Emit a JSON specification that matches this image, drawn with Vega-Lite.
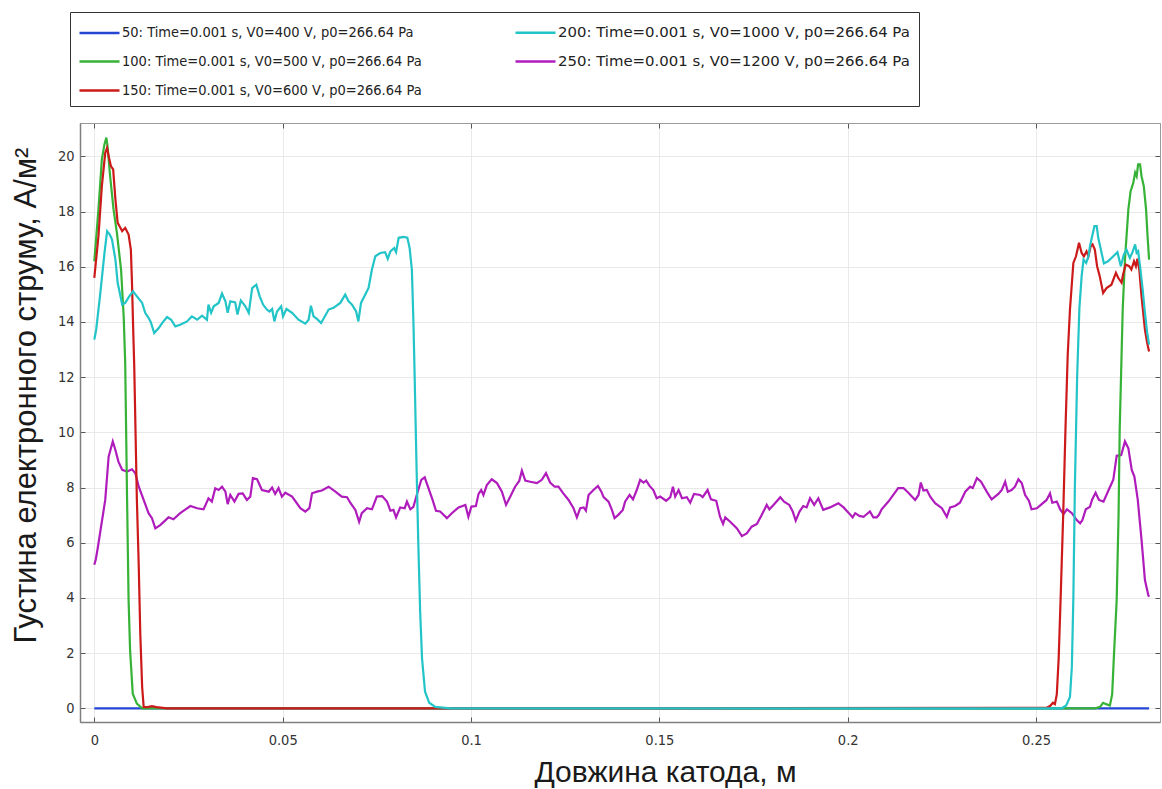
{
  "$schema": "https://vega.github.io/schema/vega-lite/v6.json",
  "width": 1080,
  "height": 599,
  "autosize": {"type": "none"},
  "padding": {"left": 80, "top": 123, "right": 2, "bottom": 67},
  "background": "white",
  "config": {
    "view": {"stroke": "#9a9a9a", "strokeWidth": 1},
    "axis": {
      "labelFont": "DejaVu Sans Condensed, DejaVu Sans",
      "labelFontSize": 14.5,
      "labelColor": "#333333",
      "titleFont": "Liberation Sans",
      "titleFontSize": 31,
      "titleFontWeight": "normal",
      "titleColor": "#1a1a1a",
      "gridColor": "#e9e9e9",
      "gridWidth": 1,
      "domainColor": "#7f7f7f",
      "domainWidth": 1.5,
      "tickColor": "#555555",
      "tickWidth": 1,
      "tickSize": -5
    }
  },
  "datasets": {
    "runs": [
      {"r": 50, "label": "50: Time=0.001 s, V0=400 V, p0=266.64 Pa"},
      {"r": 100, "label": "100: Time=0.001 s, V0=500 V, p0=266.64 Pa"},
      {"r": 150, "label": "150: Time=0.001 s, V0=600 V, p0=266.64 Pa"},
      {"r": 200, "label": "200: Time=0.001 s, V0=1000 V, p0=266.64 Pa"},
      {"r": 250, "label": "250: Time=0.001 s, V0=1200 V, p0=266.64 Pa"}
    ],
    "curves": [
      {"r":50,"x":0,"y":0},{"r":50,"x":0.28,"y":0},

      {"r":250,"x":0,"y":5.2},{"r":250,"x":0.0004,"y":5.4},{"r":250,"x":0.0009,"y":5.8},{"r":250,"x":0.0029,"y":7.55},{"r":250,"x":0.0038,"y":9.12},{"r":250,"x":0.0049,"y":9.67},{"r":250,"x":0.0056,"y":9.36},{"r":250,"x":0.0064,"y":8.94},{"r":250,"x":0.0074,"y":8.64},{"r":250,"x":0.0087,"y":8.58},{"r":250,"x":0.0100,"y":8.66},{"r":250,"x":0.0109,"y":8.52},{"r":250,"x":0.0118,"y":8.03},{"r":250,"x":0.0131,"y":7.55},{"r":250,"x":0.0144,"y":7.07},{"r":250,"x":0.0153,"y":6.89},{"r":250,"x":0.0162,"y":6.52},{"r":250,"x":0.0175,"y":6.64},{"r":250,"x":0.0197,"y":6.92},{"r":250,"x":0.0210,"y":6.85},{"r":250,"x":0.0228,"y":7.07},{"r":250,"x":0.0255,"y":7.33},{"r":250,"x":0.0273,"y":7.25},{"r":250,"x":0.0290,"y":7.21},{"r":250,"x":0.0303,"y":7.61},{"r":250,"x":0.0312,"y":7.49},{"r":250,"x":0.0321,"y":7.97},{"r":250,"x":0.0330,"y":7.91},{"r":250,"x":0.0339,"y":8.03},{"r":250,"x":0.0348,"y":7.85},{"r":250,"x":0.0354,"y":7.40},{"r":250,"x":0.0361,"y":7.73},{"r":250,"x":0.0372,"y":7.49},{"r":250,"x":0.0383,"y":7.77},{"r":250,"x":0.0394,"y":7.79},{"r":250,"x":0.0405,"y":7.55},{"r":250,"x":0.0414,"y":7.67},{"r":250,"x":0.0421,"y":8.34},{"r":250,"x":0.0432,"y":8.30},{"r":250,"x":0.0445,"y":7.91},{"r":250,"x":0.0463,"y":7.85},{"r":250,"x":0.0472,"y":8.00},{"r":250,"x":0.0480,"y":7.77},{"r":250,"x":0.0489,"y":7.98},{"r":250,"x":0.0498,"y":7.67},{"r":250,"x":0.0507,"y":7.81},{"r":250,"x":0.0525,"y":7.67},{"r":250,"x":0.0547,"y":7.25},{"r":250,"x":0.0560,"y":7.13},{"r":250,"x":0.0571,"y":7.25},{"r":250,"x":0.0578,"y":7.79},{"r":250,"x":0.0591,"y":7.85},{"r":250,"x":0.0604,"y":7.89},{"r":250,"x":0.0622,"y":8.03},{"r":250,"x":0.0640,"y":7.85},{"r":250,"x":0.0657,"y":7.67},{"r":250,"x":0.0671,"y":7.65},{"r":250,"x":0.0679,"y":7.46},{"r":250,"x":0.0693,"y":7.19},{"r":250,"x":0.0703,"y":6.76},{"r":250,"x":0.0710,"y":7.07},{"r":250,"x":0.0724,"y":7.25},{"r":250,"x":0.0737,"y":7.21},{"r":250,"x":0.0750,"y":7.67},{"r":250,"x":0.0764,"y":7.69},{"r":250,"x":0.0777,"y":7.49},{"r":250,"x":0.0786,"y":7.16},{"r":250,"x":0.0794,"y":7.19},{"r":250,"x":0.0801,"y":6.92},{"r":250,"x":0.0812,"y":7.28},{"r":250,"x":0.0824,"y":7.25},{"r":250,"x":0.0830,"y":7.49},{"r":250,"x":0.0839,"y":7.21},{"r":250,"x":0.0847,"y":7.30},{"r":250,"x":0.0856,"y":7.73},{"r":250,"x":0.0868,"y":8.28},{"r":250,"x":0.0877,"y":8.37},{"r":250,"x":0.0887,"y":7.98},{"r":250,"x":0.0898,"y":7.55},{"r":250,"x":0.0907,"y":7.16},{"r":250,"x":0.0918,"y":7.13},{"r":250,"x":0.0936,"y":6.89},{"r":250,"x":0.0949,"y":7.07},{"r":250,"x":0.0967,"y":7.28},{"r":250,"x":0.0985,"y":7.37},{"r":250,"x":0.0993,"y":6.94},{"r":250,"x":0.1001,"y":7.31},{"r":250,"x":0.1013,"y":7.33},{"r":250,"x":0.1020,"y":7.77},{"r":250,"x":0.1027,"y":7.91},{"r":250,"x":0.1033,"y":7.73},{"r":250,"x":0.1042,"y":8.09},{"r":250,"x":0.1055,"y":8.30},{"r":250,"x":0.1069,"y":8.16},{"r":250,"x":0.1082,"y":7.85},{"r":250,"x":0.1093,"y":7.37},{"r":250,"x":0.1104,"y":7.67},{"r":250,"x":0.1117,"y":8.03},{"r":250,"x":0.1128,"y":8.24},{"r":250,"x":0.1135,"y":8.61},{"r":250,"x":0.1144,"y":8.25},{"r":250,"x":0.1157,"y":8.21},{"r":250,"x":0.1175,"y":8.16},{"r":250,"x":0.1188,"y":8.28},{"r":250,"x":0.1199,"y":8.52},{"r":250,"x":0.1210,"y":8.18},{"r":250,"x":0.1222,"y":8.03},{"r":250,"x":0.1232,"y":8.03},{"r":250,"x":0.1245,"y":7.79},{"r":250,"x":0.1259,"y":7.55},{"r":250,"x":0.1272,"y":7.25},{"r":250,"x":0.1281,"y":6.92},{"r":250,"x":0.1290,"y":7.25},{"r":250,"x":0.1299,"y":7.28},{"r":250,"x":0.1305,"y":7.16},{"r":250,"x":0.1312,"y":7.73},{"r":250,"x":0.1325,"y":7.91},{"r":250,"x":0.1337,"y":8.06},{"r":250,"x":0.1346,"y":7.85},{"r":250,"x":0.1352,"y":7.65},{"r":250,"x":0.1365,"y":7.49},{"r":250,"x":0.1374,"y":7.19},{"r":250,"x":0.1381,"y":6.89},{"r":250,"x":0.1391,"y":7.01},{"r":250,"x":0.1403,"y":7.19},{"r":250,"x":0.1409,"y":7.49},{"r":250,"x":0.1421,"y":7.73},{"r":250,"x":0.1430,"y":7.57},{"r":250,"x":0.1440,"y":7.91},{"r":250,"x":0.1449,"y":8.28},{"r":250,"x":0.1458,"y":8.18},{"r":250,"x":0.1465,"y":8.25},{"r":250,"x":0.1474,"y":8.06},{"r":250,"x":0.1484,"y":7.91},{"r":250,"x":0.1493,"y":7.61},{"r":250,"x":0.1502,"y":7.67},{"r":250,"x":0.1518,"y":7.52},{"r":250,"x":0.1529,"y":7.65},{"r":250,"x":0.1536,"y":8.03},{"r":250,"x":0.1542,"y":7.67},{"r":250,"x":0.1551,"y":7.91},{"r":250,"x":0.1560,"y":7.61},{"r":250,"x":0.1573,"y":7.65},{"r":250,"x":0.1582,"y":7.45},{"r":250,"x":0.1592,"y":7.77},{"r":250,"x":0.1608,"y":7.73},{"r":250,"x":0.1615,"y":7.65},{"r":250,"x":0.1628,"y":7.91},{"r":250,"x":0.1637,"y":7.57},{"r":250,"x":0.1651,"y":7.52},{"r":250,"x":0.1661,"y":6.94},{"r":250,"x":0.1669,"y":6.68},{"r":250,"x":0.1675,"y":6.92},{"r":250,"x":0.1688,"y":6.76},{"r":250,"x":0.1706,"y":6.52},{"r":250,"x":0.1719,"y":6.24},{"r":250,"x":0.1732,"y":6.34},{"r":250,"x":0.1745,"y":6.58},{"r":250,"x":0.1759,"y":6.68},{"r":250,"x":0.1772,"y":7.01},{"r":250,"x":0.1785,"y":7.37},{"r":250,"x":0.1792,"y":7.21},{"r":250,"x":0.1803,"y":7.37},{"r":250,"x":0.1821,"y":7.65},{"r":250,"x":0.1831,"y":7.49},{"r":250,"x":0.1845,"y":7.37},{"r":250,"x":0.1854,"y":7.13},{"r":250,"x":0.1862,"y":6.80},{"r":250,"x":0.1872,"y":7.13},{"r":250,"x":0.1882,"y":7.33},{"r":250,"x":0.1891,"y":7.28},{"r":250,"x":0.1900,"y":7.61},{"r":250,"x":0.1911,"y":7.37},{"r":250,"x":0.1922,"y":7.61},{"r":250,"x":0.1935,"y":7.19},{"r":250,"x":0.1953,"y":7.28},{"r":250,"x":0.1975,"y":7.43},{"r":250,"x":0.1989,"y":7.28},{"r":250,"x":0.2002,"y":7.09},{"r":250,"x":0.2013,"y":6.92},{"r":250,"x":0.2020,"y":7.07},{"r":250,"x":0.2031,"y":6.97},{"r":250,"x":0.2042,"y":6.94},{"r":250,"x":0.2051,"y":7.04},{"r":250,"x":0.2059,"y":7.13},{"r":250,"x":0.2068,"y":6.92},{"r":250,"x":0.2077,"y":6.92},{"r":250,"x":0.2083,"y":7.01},{"r":250,"x":0.2090,"y":7.21},{"r":250,"x":0.2108,"y":7.49},{"r":250,"x":0.2134,"y":7.98},{"r":250,"x":0.2148,"y":7.98},{"r":250,"x":0.2161,"y":7.81},{"r":250,"x":0.2179,"y":7.55},{"r":250,"x":0.2188,"y":7.73},{"r":250,"x":0.2194,"y":8.18},{"r":250,"x":0.2201,"y":7.89},{"r":250,"x":0.2210,"y":7.91},{"r":250,"x":0.2219,"y":7.67},{"r":250,"x":0.2232,"y":7.43},{"r":250,"x":0.2250,"y":7.25},{"r":250,"x":0.2263,"y":6.94},{"r":250,"x":0.2272,"y":7.28},{"r":250,"x":0.2285,"y":7.33},{"r":250,"x":0.2298,"y":7.45},{"r":250,"x":0.2312,"y":7.85},{"r":250,"x":0.2325,"y":8.03},{"r":250,"x":0.2332,"y":7.98},{"r":250,"x":0.2343,"y":8.34},{"r":250,"x":0.2354,"y":8.21},{"r":250,"x":0.2369,"y":7.85},{"r":250,"x":0.2382,"y":7.57},{"r":250,"x":0.2400,"y":7.77},{"r":250,"x":0.2409,"y":7.91},{"r":250,"x":0.2418,"y":8.21},{"r":250,"x":0.2425,"y":7.85},{"r":250,"x":0.2435,"y":7.91},{"r":250,"x":0.2444,"y":8.03},{"r":250,"x":0.2453,"y":8.30},{"r":250,"x":0.2462,"y":8.16},{"r":250,"x":0.2471,"y":7.73},{"r":250,"x":0.2481,"y":7.52},{"r":250,"x":0.2488,"y":7.21},{"r":250,"x":0.2502,"y":7.25},{"r":250,"x":0.2515,"y":7.40},{"r":250,"x":0.2528,"y":7.55},{"r":250,"x":0.2537,"y":7.79},{"r":250,"x":0.2543,"y":7.45},{"r":250,"x":0.2555,"y":7.49},{"r":250,"x":0.2564,"y":7.21},{"r":250,"x":0.2573,"y":7.04},{"r":250,"x":0.2582,"y":7.21},{"r":250,"x":0.2595,"y":7.07},{"r":250,"x":0.2608,"y":6.82},{"r":250,"x":0.2617,"y":6.70},{"r":250,"x":0.2623,"y":6.82},{"r":250,"x":0.2632,"y":7.21},{"r":250,"x":0.2643,"y":7.30},{"r":250,"x":0.2649,"y":7.57},{"r":250,"x":0.2658,"y":7.81},{"r":250,"x":0.2667,"y":7.55},{"r":250,"x":0.2679,"y":7.49},{"r":250,"x":0.2692,"y":7.89},{"r":250,"x":0.2705,"y":8.28},{"r":250,"x":0.2714,"y":9.15},{"r":250,"x":0.2726,"y":9.18},{"r":250,"x":0.2736,"y":9.67},{"r":250,"x":0.2745,"y":9.42},{"r":250,"x":0.2754,"y":8.64},{"r":250,"x":0.2761,"y":8.40},{"r":250,"x":0.2770,"y":7.55},{"r":250,"x":0.2780,"y":6.10},{"r":250,"x":0.2789,"y":4.65},{"r":250,"x":0.2798,"y":4.10},{"r":250,"x":0.2800,"y":4.04},

      {"r":100,"x":0,"y":16.20},{"r":100,"x":0.0011,"y":18.08},{"r":100,"x":0.0020,"y":19.89},{"r":100,"x":0.0027,"y":20.44},{"r":100,"x":0.0032,"y":20.68},{"r":100,"x":0.0035,"y":20.37},{"r":100,"x":0.0042,"y":19.28},{"r":100,"x":0.0051,"y":18.08},{"r":100,"x":0.0060,"y":17.23},{"r":100,"x":0.0066,"y":16.50},{"r":100,"x":0.0071,"y":15.90},{"r":100,"x":0.0078,"y":14.20},{"r":100,"x":0.0082,"y":12.51},{"r":100,"x":0.0087,"y":7.55},{"r":100,"x":0.0091,"y":3.92},{"r":100,"x":0.0095,"y":2.1},{"r":100,"x":0.0102,"y":0.53},{"r":100,"x":0.0113,"y":0.17},{"r":100,"x":0.0127,"y":0},{"r":100,"x":0.0657,"y":0},{"r":100,"x":0.1500,"y":0},{"r":100,"x":0.2657,"y":0},{"r":100,"x":0.2670,"y":0.05},{"r":100,"x":0.2678,"y":0.2},{"r":100,"x":0.2686,"y":0.15},{"r":100,"x":0.2696,"y":0.1},{"r":100,"x":0.2702,"y":0.5},{"r":100,"x":0.2707,"y":2.0},{"r":100,"x":0.2714,"y":3.92},{"r":100,"x":0.2719,"y":7.0},{"r":100,"x":0.2722,"y":10.09},{"r":100,"x":0.2730,"y":14.45},{"r":100,"x":0.2736,"y":16.26},{"r":100,"x":0.2745,"y":18.08},{"r":100,"x":0.2751,"y":18.74},{"r":100,"x":0.2758,"y":19.04},{"r":100,"x":0.2763,"y":19.41},{"r":100,"x":0.2767,"y":19.28},{"r":100,"x":0.2771,"y":19.71},{"r":100,"x":0.2776,"y":19.71},{"r":100,"x":0.2780,"y":19.28},{"r":100,"x":0.2786,"y":18.92},{"r":100,"x":0.2792,"y":18.08},{"r":100,"x":0.2796,"y":17.11},{"r":100,"x":0.2800,"y":16.26},

      {"r":150,"x":0,"y":15.60},{"r":150,"x":0.0011,"y":17.11},{"r":150,"x":0.0020,"y":18.92},{"r":150,"x":0.0029,"y":20.13},{"r":150,"x":0.0034,"y":20.31},{"r":150,"x":0.0038,"y":20.01},{"r":150,"x":0.0044,"y":19.65},{"r":150,"x":0.0050,"y":19.53},{"r":150,"x":0.0056,"y":18.44},{"r":150,"x":0.0062,"y":17.59},{"r":150,"x":0.0067,"y":17.47},{"r":150,"x":0.0074,"y":17.29},{"r":150,"x":0.0082,"y":17.41},{"r":150,"x":0.0091,"y":17.17},{"r":150,"x":0.0097,"y":16.62},{"r":150,"x":0.0100,"y":15.42},{"r":150,"x":0.0103,"y":13.84},{"r":150,"x":0.0106,"y":12.39},{"r":150,"x":0.0113,"y":7.55},{"r":150,"x":0.0118,"y":5.13},{"r":150,"x":0.0122,"y":2.71},{"r":150,"x":0.0127,"y":0.77},{"r":150,"x":0.0131,"y":0.05},{"r":150,"x":0.0141,"y":0.04},{"r":150,"x":0.0153,"y":0.08},{"r":150,"x":0.0165,"y":0.04},{"r":150,"x":0.0193,"y":0},{"r":150,"x":0.1500,"y":0},{"r":150,"x":0.2528,"y":0.02},{"r":150,"x":0.2537,"y":0.08},{"r":150,"x":0.2545,"y":0.2},{"r":150,"x":0.2550,"y":0.15},{"r":150,"x":0.2555,"y":0.5},{"r":150,"x":0.2560,"y":1.8},{"r":150,"x":0.2565,"y":3.9},{"r":150,"x":0.2572,"y":7.0},{"r":150,"x":0.2578,"y":10.09},{"r":150,"x":0.2584,"y":12.8},{"r":150,"x":0.2590,"y":14.45},{"r":150,"x":0.2599,"y":16.14},{"r":150,"x":0.2606,"y":16.38},{"r":150,"x":0.2614,"y":16.87},{"r":150,"x":0.2621,"y":16.50},{"r":150,"x":0.2627,"y":16.38},{"r":150,"x":0.2634,"y":16.56},{"r":150,"x":0.2639,"y":16.38},{"r":150,"x":0.2645,"y":16.74},{"r":150,"x":0.2650,"y":16.81},{"r":150,"x":0.2656,"y":16.62},{"r":150,"x":0.2662,"y":16.02},{"r":150,"x":0.2669,"y":15.66},{"r":150,"x":0.2678,"y":15.05},{"r":150,"x":0.2687,"y":15.23},{"r":150,"x":0.2700,"y":15.35},{"r":150,"x":0.2712,"y":15.78},{"r":150,"x":0.2718,"y":15.60},{"r":150,"x":0.2727,"y":15.42},{"r":150,"x":0.2731,"y":15.72},{"r":150,"x":0.2738,"y":16.08},{"r":150,"x":0.2747,"y":16.02},{"r":150,"x":0.2753,"y":15.90},{"r":150,"x":0.2760,"y":16.20},{"r":150,"x":0.2765,"y":16.02},{"r":150,"x":0.2769,"y":16.29},{"r":150,"x":0.2774,"y":15.90},{"r":150,"x":0.2780,"y":14.93},{"r":150,"x":0.2789,"y":13.72},{"r":150,"x":0.2795,"y":13.24},{"r":150,"x":0.2800,"y":12.93},

      {"r":200,"x":0,"y":13.36},{"r":200,"x":0.0005,"y":13.72},{"r":200,"x":0.0015,"y":14.93},{"r":200,"x":0.0027,"y":16.50},{"r":200,"x":0.0034,"y":17.29},{"r":200,"x":0.0041,"y":17.17},{"r":200,"x":0.0047,"y":16.99},{"r":200,"x":0.0056,"y":16.26},{"r":200,"x":0.0062,"y":15.42},{"r":200,"x":0.0074,"y":14.63},{"r":200,"x":0.0082,"y":14.69},{"r":200,"x":0.0094,"y":14.95},{"r":200,"x":0.0103,"y":15.11},{"r":200,"x":0.0113,"y":14.93},{"r":200,"x":0.0127,"y":14.69},{"r":200,"x":0.0135,"y":14.33},{"r":200,"x":0.0144,"y":14.15},{"r":200,"x":0.0150,"y":13.99},{"r":200,"x":0.0159,"y":13.60},{"r":200,"x":0.0171,"y":13.78},{"r":200,"x":0.0180,"y":13.96},{"r":200,"x":0.0193,"y":14.18},{"r":200,"x":0.0204,"y":14.08},{"r":200,"x":0.0215,"y":13.84},{"r":200,"x":0.0228,"y":13.90},{"r":200,"x":0.0246,"y":14.02},{"r":200,"x":0.0259,"y":14.20},{"r":200,"x":0.0273,"y":14.08},{"r":200,"x":0.0286,"y":14.23},{"r":200,"x":0.0299,"y":14.08},{"r":200,"x":0.0303,"y":14.63},{"r":200,"x":0.0310,"y":14.33},{"r":200,"x":0.0317,"y":14.57},{"r":200,"x":0.0330,"y":14.69},{"r":200,"x":0.0339,"y":15.03},{"r":200,"x":0.0348,"y":14.75},{"r":200,"x":0.0354,"y":14.33},{"r":200,"x":0.0361,"y":14.75},{"r":200,"x":0.0374,"y":14.71},{"r":200,"x":0.0380,"y":14.27},{"r":200,"x":0.0389,"y":14.78},{"r":200,"x":0.0401,"y":14.57},{"r":200,"x":0.0410,"y":14.33},{"r":200,"x":0.0419,"y":15.23},{"r":200,"x":0.0430,"y":15.35},{"r":200,"x":0.0439,"y":14.93},{"r":200,"x":0.0448,"y":14.63},{"r":200,"x":0.0458,"y":14.45},{"r":200,"x":0.0465,"y":14.38},{"r":200,"x":0.0472,"y":14.47},{"r":200,"x":0.0478,"y":14.02},{"r":200,"x":0.0485,"y":14.38},{"r":200,"x":0.0496,"y":14.57},{"r":200,"x":0.0501,"y":14.20},{"r":200,"x":0.0510,"y":14.47},{"r":200,"x":0.0525,"y":14.33},{"r":200,"x":0.0542,"y":14.08},{"r":200,"x":0.0560,"y":13.94},{"r":200,"x":0.0569,"y":14.08},{"r":200,"x":0.0575,"y":14.59},{"r":200,"x":0.0582,"y":14.20},{"r":200,"x":0.0591,"y":14.11},{"r":200,"x":0.0602,"y":13.96},{"r":200,"x":0.0610,"y":14.15},{"r":200,"x":0.0622,"y":14.45},{"r":200,"x":0.0635,"y":14.51},{"r":200,"x":0.0653,"y":14.69},{"r":200,"x":0.0666,"y":14.99},{"r":200,"x":0.0675,"y":14.75},{"r":200,"x":0.0684,"y":14.63},{"r":200,"x":0.0695,"y":14.38},{"r":200,"x":0.0701,"y":14.02},{"r":200,"x":0.0708,"y":14.69},{"r":200,"x":0.0719,"y":14.99},{"r":200,"x":0.0728,"y":15.23},{"r":200,"x":0.0737,"y":15.90},{"r":200,"x":0.0746,"y":16.38},{"r":200,"x":0.0759,"y":16.50},{"r":200,"x":0.0772,"y":16.53},{"r":200,"x":0.0779,"y":16.29},{"r":200,"x":0.0786,"y":16.56},{"r":200,"x":0.0796,"y":16.68},{"r":200,"x":0.0801,"y":16.53},{"r":200,"x":0.0808,"y":17.05},{"r":200,"x":0.0821,"y":17.08},{"r":200,"x":0.0831,"y":17.05},{"r":200,"x":0.0837,"y":16.68},{"r":200,"x":0.0843,"y":15.90},{"r":200,"x":0.0847,"y":14.08},{"r":200,"x":0.0850,"y":12.27},{"r":200,"x":0.0855,"y":9.0},{"r":200,"x":0.0860,"y":6.0},{"r":200,"x":0.0865,"y":3.5},{"r":200,"x":0.0870,"y":1.8},{"r":200,"x":0.0878,"y":0.6},{"r":200,"x":0.0889,"y":0.2},{"r":200,"x":0.0905,"y":0.05},{"r":200,"x":0.0945,"y":0},{"r":200,"x":0.2000,"y":0},{"r":200,"x":0.2568,"y":0},{"r":200,"x":0.2580,"y":0.1},{"r":200,"x":0.2590,"y":0.41},{"r":200,"x":0.2595,"y":1.5},{"r":200,"x":0.2599,"y":4.0},{"r":200,"x":0.2603,"y":8.0},{"r":200,"x":0.2609,"y":12.0},{"r":200,"x":0.2615,"y":14.5},{"r":200,"x":0.2621,"y":15.66},{"r":200,"x":0.2626,"y":16.26},{"r":200,"x":0.2633,"y":16.14},{"r":200,"x":0.2639,"y":16.38},{"r":200,"x":0.2643,"y":16.74},{"r":200,"x":0.2648,"y":17.05},{"r":200,"x":0.2655,"y":17.47},{"r":200,"x":0.2661,"y":17.47},{"r":200,"x":0.2665,"y":17.05},{"r":200,"x":0.2669,"y":16.81},{"r":200,"x":0.2674,"y":16.50},{"r":200,"x":0.2680,"y":16.12},{"r":200,"x":0.2691,"y":16.20},{"r":200,"x":0.2705,"y":16.38},{"r":200,"x":0.2716,"y":16.53},{"r":200,"x":0.2725,"y":16.02},{"r":200,"x":0.2733,"y":16.44},{"r":200,"x":0.2740,"y":16.62},{"r":200,"x":0.2749,"y":16.32},{"r":200,"x":0.2756,"y":16.53},{"r":200,"x":0.2763,"y":16.81},{"r":200,"x":0.2767,"y":16.50},{"r":200,"x":0.2771,"y":16.56},{"r":200,"x":0.2776,"y":16.02},{"r":200,"x":0.2783,"y":15.17},{"r":200,"x":0.2789,"y":14.33},{"r":200,"x":0.2795,"y":13.60},{"r":200,"x":0.2800,"y":13.18}
    ]
  },
  "data": {"name": "curves"},
  "transform": [
    {"lookup": "r", "from": {"data": {"name": "runs"}, "key": "r", "fields": ["label"]}}
  ],
  "layer": [
    {
      "mark": {"type": "line", "strokeWidth": 2.2, "clip": true},
      "encoding": {
        "x": {
          "field": "x",
          "type": "quantitative",
          "scale": {"domain": [-0.0038, 0.2829], "nice": false, "zero": false},
          "axis": {
            "orient": "bottom",
            "values": [0, 0.05, 0.1, 0.15, 0.2, 0.25],
            "format": ".2~f",
            "grid": true,
            "labelPadding": 16,
            "title": "Довжина катода, м",
            "titleFontSize": 30,
            "titleAlign": "center",
            "titleBaseline": "alphabetic",
            "titleX": 585,
            "titleY": 59
          }
        },
        "y": {
          "field": "y",
          "type": "quantitative",
          "scale": {"domain": [-0.497, 21.21], "nice": false, "zero": false},
          "axis": {
            "orient": "left",
            "values": [0, 2, 4, 6, 8, 10, 12, 14, 16, 18, 20],
            "format": "d",
            "grid": true,
            "labelPadding": 11,
            "title": "Густина електронного струму, А/м²",
            "titleAngle": -90,
            "titleAlign": "center",
            "titleBaseline": "alphabetic",
            "titleX": -45,
            "titleY": 272
          }
        },
        "color": {
          "field": "label",
          "type": "nominal",
          "scale": {
            "domain": [
              "50: Time=0.001 s, V0=400 V, p0=266.64 Pa",
              "100: Time=0.001 s, V0=500 V, p0=266.64 Pa",
              "150: Time=0.001 s, V0=600 V, p0=266.64 Pa",
              "200: Time=0.001 s, V0=1000 V, p0=266.64 Pa",
              "250: Time=0.001 s, V0=1200 V, p0=266.64 Pa"
            ],
            "range": ["#2446d2", "#36b336", "#cc1a1a", "#22c4c8", "#b01cbc"]
          },
          "legend": {
            "title": null,
            "orient": "none",
            "legendX": -10,
            "legendY": -111,
            "columns": 2,
            "symbolType": "M-1.1,0H2.9",
            "symbolSize": 400,
            "symbolStrokeWidth": 2.5,
            "labelFont": "DejaVu Sans Condensed, DejaVu Sans",
            "labelFontSize": 14.5,
            "labelColor": "#222222",
            "labelOffset": 20,
            "labelLimit": 0,
            "rowPadding": 10,
            "columnPadding": 88,
            "padding": 9,
            "strokeColor": "#333333",
            "fillColor": "white",
            "encode": {
              "labels": {
                "update": {
                  "font": {"signal": "substring(datum.label, 0, 1) == '2' ? 'DejaVu Sans' : 'DejaVu Sans Condensed'"},
                  "fontSize": {"signal": "substring(datum.label, 0, 1) == '2' ? 14.9 : 14.5"}
                }
              }
            }
          }
        }
      }
    },
    {
      "mark": {"type": "line", "opacity": 0},
      "encoding": {
        "x": {
          "field": "x",
          "type": "quantitative",
          "scale": {"domain": [-0.0038, 0.2829], "nice": false, "zero": false},
          "axis": {"orient": "top", "values": [0, 0.05, 0.1, 0.15, 0.2, 0.25], "labels": false, "grid": false, "title": null, "domainColor": "#9a9a9a", "domainWidth": 1}
        },
        "y": {
          "field": "y",
          "type": "quantitative",
          "scale": {"domain": [-0.497, 21.21], "nice": false, "zero": false},
          "axis": {"orient": "right", "values": [0, 2, 4, 6, 8, 10, 12, 14, 16, 18, 20], "labels": false, "grid": false, "title": null, "domainColor": "#9a9a9a", "domainWidth": 1}
        }
      }
    }
  ],
  "resolve": {"axis": {"x": "independent", "y": "independent"}}
}
